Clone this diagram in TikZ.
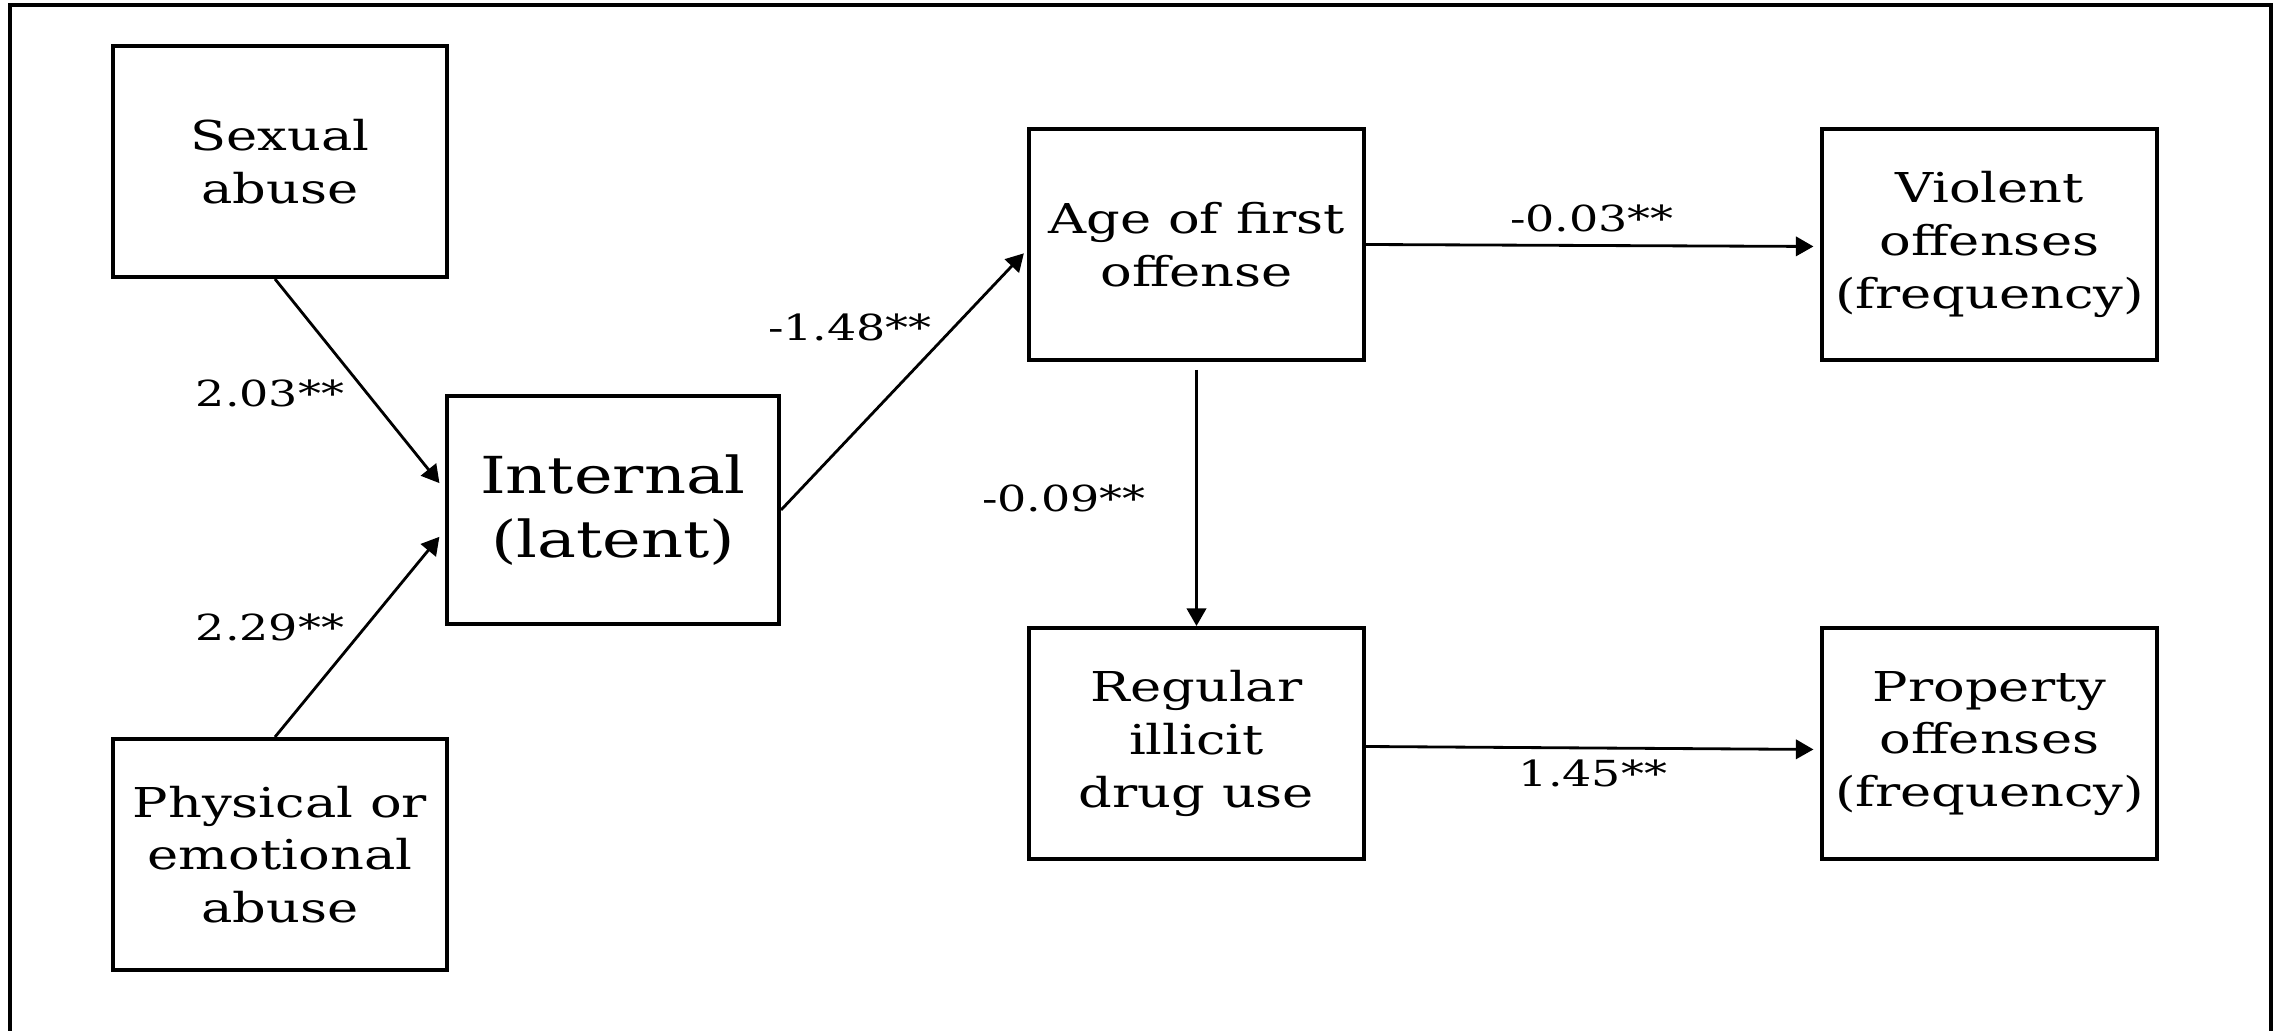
\documentclass[tikz,border=0pt]{standalone}
\usepackage{fontspec}
\setmainfont{DejaVu Serif}[FakeStretch=1.28]
\usepackage{xcolor}
\usepackage{tikz}
\usetikzlibrary{positioning, arrows.meta}

\begin{document}
\begin{tikzpicture}[x=0.01cm, y=-0.01cm,
        varbox/.style={draw, line width=1.1pt, minimum width=3.34cm, minimum height=2.31cm,
            inner sep=0pt, align=center, font=\fontsize{11.7}{15}\selectfont},
        coef/.style={font=\fontsize{10.2}{12}\selectfont, inner sep=1pt},
        path/.style={line width=0.8pt, -{Triangle[length=5pt, width=5.5pt]}}]
        \useasboundingbox (0,0) rectangle (2275,1031);
        \draw[line width=1.2pt] (10,1040) -- (10,5) -- (2271,5) -- (2271,1040);

        % abuse types and latent factor
        \node[varbox] (sexual) at (280,161.5) {Sexual\\abuse};
        \node[varbox] (physical) at (280,854.5) {Physical or\\emotional\\abuse};
        \node[varbox, minimum width=3.32cm, minimum height=2.28cm,
            font=\fontsize{14.5}{18}\selectfont] (internal) at (613,510) {Internal\\(latent)};

        % offending outcomes
        \node[varbox] (age) at (1196.5,244.5) {Age of first\\offense};
        \node[varbox] (violent) at (1989.5,244.5) {Violent\\offenses\\(frequency)};
        \node[varbox] (drug) at (1196.5,743.5) {Regular\\illicit\\drug use};
        \node[varbox] (property) at (1989.5,743.5) {Property\\offenses\\(frequency)};

        \draw[path, shorten >=2.5pt] ([xshift=-0.05cm]sexual.south) -- ([yshift=0.2cm]internal.west);
        \draw[path, shorten >=2.5pt] ([xshift=-0.05cm]physical.north) -- ([yshift=-0.2cm]internal.west);
        \draw[path, shorten >=1.5pt] (internal.east) -- ([yshift=-0.05cm]age.west);
        \draw[path, shorten >=2pt] (age.east) -- ([yshift=-0.02cm]violent.west);
        \draw[path] ([yshift=-0.08cm]age.south) -- (drug.north);
        \draw[path, shorten >=2pt] ([yshift=-0.03cm]drug.east) -- ([yshift=-0.06cm]property.west);

        \node[coef] (c1) at (270,393) {2.03**};
        \node[coef] (c2) at (270,627) {2.29**};
        \node[coef] (c3) at (850,327) {-1.48**};
        \node[coef] (c4) at (1592,218) {-0.03**};
        \node[coef] (c5) at (1064,498) {-0.09**};
        \node[coef] (c6) at (1593,773) {1.45**};
    \end{tikzpicture}
\end{document}
